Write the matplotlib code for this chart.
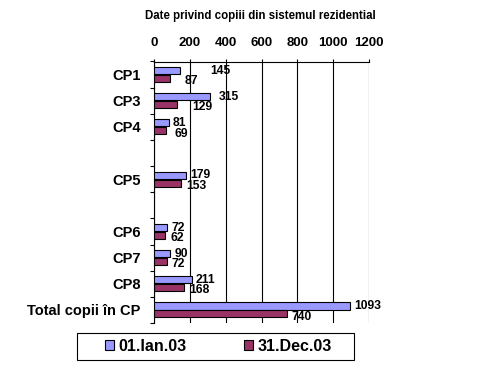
import matplotlib
matplotlib.use("Agg")
import matplotlib.pyplot as plt
from matplotlib.patches import Patch, Rectangle
import numpy as np

plt.rcParams['font.family'] = ['Liberation Sans', 'DejaVu Sans']
plt.rcParams['font.weight'] = 'bold'

categories = ["CP1", "CP3", "CP4", "", "CP5", "", "CP6", "CP7", "CP8", "Total copii în CP"]
jan03 = [145, 315, 81, None, 179, None, 72, 90, 211, 1093]
dec03 = [87, 129, 69, None, 153, None, 62, 72, 168, 740]
series_names = ["01.Ian.03", "31.Dec.03"]
xticks = [0, 200, 400, 600, 800, 1000, 1200]
title = "Date privind copiii din sistemul rezidential"

# label nudges in points (x) for a few labels, as in the original
jan_nudge = [18.5, 2.8, 0, 0, 0, 0, 0, 0, 0, 0]
dec_nudge = [7.3, 7.3, 2.3, 0, 0, 0, 0, 0, 0, 0]

blue = "#9999FF"
red = "#993366"

fig = plt.figure(figsize=(5.04, 3.68), dpi=100)
ax = fig.add_axes([154/504, 1-323/368, 215/504, (323-61.5)/368])

y = np.arange(len(categories))
h = 0.27
off = 0.15
for i, (a, b) in enumerate(zip(jan03, dec03)):
    if a is not None:
        ax.barh(y[i] - off, a, height=h, color=blue, edgecolor='black', linewidth=0.8, zorder=3)
        ax.annotate(str(a), (a, y[i] - off), xytext=(3 + jan_nudge[i], 0), textcoords='offset points',
                    ha='left', va='center', fontsize=8.7, fontweight='bold', zorder=4)
    if b is not None:
        ax.annotate(str(b), (b, y[i] + off), xytext=(3.6 + dec_nudge[i], -2), textcoords='offset points',
                    ha='left', va='center', fontsize=8.7, fontweight='bold', zorder=4)
        ax.barh(y[i] + off, b, height=h, color=red, edgecolor='black', linewidth=0.8, zorder=3)

ax.set_xlim(0, 1200)
ax.set_ylim(len(categories) - 0.5, -0.5)
ax.xaxis.tick_top()
ax.set_xticks(xticks)
ax.set_xticklabels([str(t) for t in xticks], fontsize=9.5, fontweight='bold')
ax.tick_params(axis='x', direction='out', length=2.5, width=0.8, pad=6.5, color='black')
ax.xaxis.grid(True, color='black', linewidth=0.8, zorder=1)

ax.set_yticks(y)
ax.set_yticklabels(categories, fontsize=10.5, fontweight='bold')
ax.tick_params(axis='y', which='major', length=0, pad=9.5)
ax.set_yticks(np.arange(len(categories) + 1) - 0.5, minor=True)
ax.tick_params(axis='y', which='minor', direction='out', length=3, width=0.8)

for s in ['right', 'bottom']:
    ax.spines[s].set_visible(False)
for s in ['left', 'top']:
    ax.spines[s].set_linewidth(0.8)

fig.text(260/504, 1-16/368, title, ha='center', va='center', fontsize=8.3, fontweight='bold')

handles = [Patch(facecolor=blue, edgecolor='black', linewidth=0.8),
           Patch(facecolor=red, edgecolor='black', linewidth=0.8)]
leg = fig.legend(handles, series_names, loc='center left',
                 bbox_to_anchor=(105/504, 1-346.5/368),
                 ncol=2, frameon=False,
                 prop={'size': 11.5, 'weight': 'bold'}, handlelength=0.58, handleheight=0.58,
                 handletextpad=0.28, columnspacing=3.56, borderaxespad=0, borderpad=0)
fig.patches.append(Rectangle((77/504, 1-360/368), 277/504, 27/368, transform=fig.transFigure,
                             fill=False, edgecolor='black', linewidth=0.8))

fig.savefig("out.png", dpi=100)
